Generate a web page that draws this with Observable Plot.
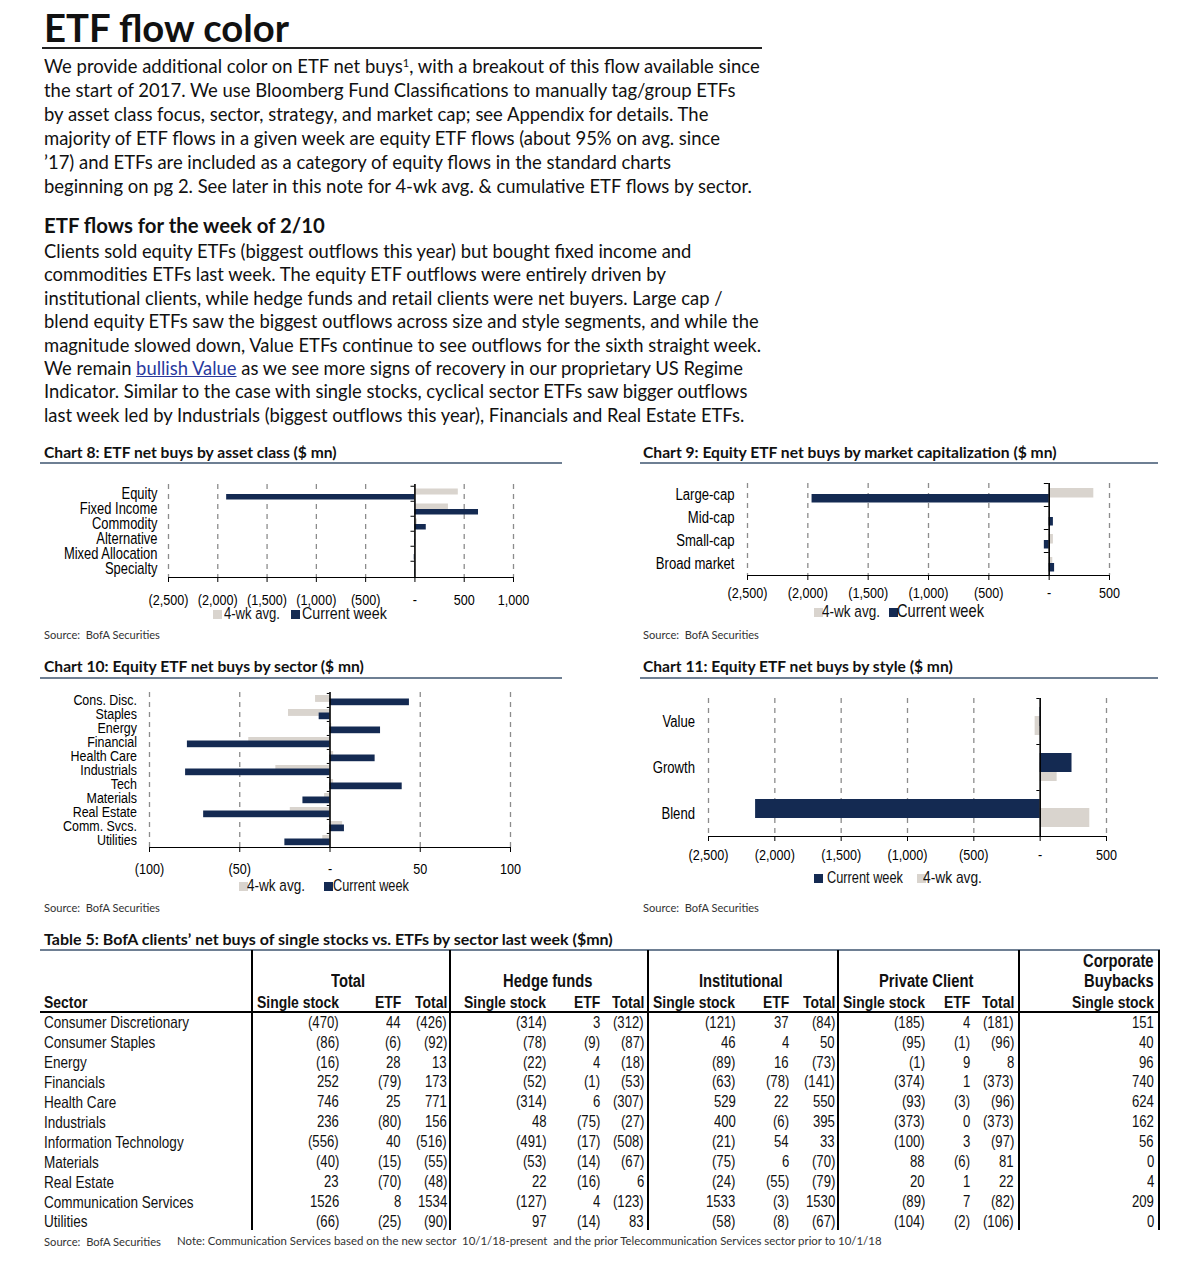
<!DOCTYPE html>
<html><head><meta charset="utf-8">
<script src="https://cdn.jsdelivr.net/npm/d3@7"></script>
<script src="https://cdn.jsdelivr.net/npm/@observablehq/plot@0.6"></script>
<style>
body{margin:0;background:#fff;}
#page{position:relative;width:1187px;height:1280px;overflow:hidden;color:#111;}
.abs{position:absolute;white-space:nowrap;line-height:1;}
.abs sup{font-size:0.6em;line-height:0;vertical-align:0.55em;}
.abs a{color:#2a3a9e;text-decoration:underline;}
.hr{position:absolute;}
</style></head>
<body><div id="page"></div>
<script>
// ---------------- DATA ----------------
const cats8 = ["Equity","Fixed Income","Commodity","Alternative","Mixed Allocation","Specialty"];
const avg8  = [440, 340, 25, 4, 3, 2];
const cur8  = [-1910, 645, 115, 6, -7, 4];
const ticks8 = [-2500,-2000,-1500,-1000,-500,0,500,1000];

const cats9 = ["Large-cap","Mid-cap","Small-cap","Broad market"];
const avg9  = [370, 8, 35, 30];
const cur9  = [-1965, 35, -40, 45];
const ticks9 = [-2500,-2000,-1500,-1000,-500,0,500];

const cats10 = ["Cons. Disc.","Staples","Energy","Financial","Health Care","Industrials","Tech","Materials","Real Estate","Comm. Svcs.","Utilities"];
const avg10  = [-8, -23, 1, -45, 2, -30, 2, -3, -22, 7, -4];
const cur10  = [44, -6, 28, -79, 25, -80, 40, -15, -70, 8, -25];
const ticks10 = [-100,-50,0,50,100];

const cats11 = ["Value","Growth","Blend"];
const cur11  = [-3, 240, -2145];
const avg11  = [-38, 128, 374];
const ticks11 = [-2500,-2000,-1500,-1000,-500,0,500];

const sectors = ["Consumer Discretionary","Consumer Staples","Energy","Financials","Health Care","Industrials","Information Technology","Materials","Real Estate","Communication Services","Utilities"];
const totSingle  = [-470,-86,-16,252,746,236,-556,-40,23,1526,-66];
const totETF     = [44,-6,28,-79,25,-80,40,-15,-70,8,-25];
const totTotal   = [-426,-92,13,173,771,156,-516,-55,-48,1534,-90];
const hfSingle   = [-314,-78,-22,-52,-314,48,-491,-53,22,-127,97];
const hfETF      = [3,-9,4,-1,6,-75,-17,-14,-16,4,-14];
const hfTotal    = [-312,-87,-18,-53,-307,-27,-508,-67,6,-123,83];
const instSingle = [-121,46,-89,-63,529,400,-21,-75,-24,1533,-58];
const instETF    = [37,4,16,-78,22,-6,54,6,-55,-3,-8];
const instTotal  = [-84,50,-73,-141,550,395,33,-70,-79,1530,-67];
const pcSingle   = [-185,-95,-1,-374,-93,-373,-100,88,20,-89,-104];
const pcETF      = [4,-1,9,1,-3,0,3,-6,1,7,-2];
const pcTotal    = [-181,-96,8,-373,-96,-373,-97,81,22,-82,-106];
const buybacks   = [151,40,96,740,624,162,56,0,4,209,0];

// ---------------- HELPERS ----------------
const page = document.getElementById("page");
const BODY = "Lato, 'Open Sans', sans-serif";
const NARROW = "'Liberation Sans', Arial, sans-serif";
const SX = 0.82; // horizontal squeeze to mimic a narrow face
const NAVY = "#142a52", GRAY = "#d9d4ce", RULE = "#6e7f93";
const acct = d => d === 0 ? "-" : d < 0 ? "(" + d3.format(",")(-d) + ")" : d3.format(",")(d);
const tcell = d => d < 0 ? "(" + (-d) + ")" : String(d);

function txt(html, o) {
  const d = document.createElement("div");
  d.className = "abs";
  d.innerHTML = html;
  d.style.fontFamily = o.family || BODY;
  d.style.fontWeight = o.weight || 400;
  d.style.color = o.color || "#111";
  if (o.sx) { d.style.transform = `scaleX(${o.sx})`; d.style.transformOrigin = "0 0"; }
  let fs = o.size || 16;
  d.style.fontSize = fs + "px";
  page.appendChild(d);
  if (o.w) { const cw = d.getBoundingClientRect().width; fs = fs * o.w / cw; d.style.fontSize = fs + "px"; }
  const w = d.getBoundingClientRect().width;
  const x = o.anchor === "end" ? o.x - w : o.anchor === "middle" ? o.x - w / 2 : o.x;
  d.style.left = x + "px";
  d.style.top = (o.y - fs * (o.f || 0.55)) + "px";
  return fs;
}
function fitSize(html, family, weight, target) {
  const d = document.createElement("div");
  d.className = "abs"; d.innerHTML = html; d.style.fontFamily = family; d.style.fontWeight = weight; d.style.fontSize = "20px";
  page.appendChild(d); const w = d.getBoundingClientRect().width; d.remove();
  return 20 * target / w;
}
function hr(x1, x2, y, h, color) {
  const d = document.createElement("div"); d.className = "hr";
  Object.assign(d.style, {left: x1 + "px", top: (y - h / 2) + "px", width: (x2 - x1) + "px", height: h + "px", background: color});
  page.appendChild(d);
}
function vr(x, y1, y2, w, color) {
  const d = document.createElement("div"); d.className = "hr";
  Object.assign(d.style, {left: (x - w / 2) + "px", top: y1 + "px", width: w + "px", height: (y2 - y1) + "px", background: color});
  page.appendChild(d);
}
function sq(x, y, color) {
  const d = document.createElement("div"); d.className = "hr";
  Object.assign(d.style, {left: x + "px", top: (y - 4.5) + "px", width: "9px", height: "9px", background: color});
  page.appendChild(d);
}

// ---------------- HEADER TEXT ----------------
txt("ETF flow color", {x: 44, y: 28, w: 245, size: 36, weight: 700, f: 0.53});
hr(42, 762, 48, 2, "#222");

const p1 = [
  "We provide additional color on ETF net buys<sup>1</sup>, with a breakout of this flow available since",
  "the start of 2017. We use Bloomberg Fund Classifications to manually tag/group ETFs",
  "by asset class focus, sector, strategy, and market cap; see Appendix for details. The",
  "majority of ETF flows in a given week are equity ETF flows (about 95% on avg. since",
  "’17) and ETFs are included as a category of equity flows in the standard charts",
  "beginning on pg 2. See later in this note for 4-wk avg. &amp; cumulative ETF flows by sector."
];
const fs1 = fitSize(p1[0], BODY, 400, 716);
p1.forEach((l, i) => txt(l, {x: 44, y: 66 + 24 * i, size: fs1, f: 0.5}));

txt("ETF flows for the week of 2/10", {x: 44, y: 226, w: 281, size: 18, weight: 700, f: 0.52});
const p2 = [
  "Clients sold equity ETFs (biggest outflows this year) but bought fixed income and",
  "commodities ETFs last week. The equity ETF outflows were entirely driven by",
  "institutional clients, while hedge funds and retail clients were net buyers. Large cap /",
  "blend equity ETFs saw the biggest outflows across size and style segments, and while the",
  "magnitude slowed down, Value ETFs continue to see outflows for the sixth straight week.",
  "We remain <a>bullish Value</a> as we see more signs of recovery in our proprietary US Regime",
  "Indicator. Similar to the case with single stocks, cyclical sector ETFs saw bigger outflows",
  "last week led by Industrials (biggest outflows this year), Financials and Real Estate ETFs."
];
const fs2 = fitSize(p2[3], BODY, 400, 715);
p2.forEach((l, i) => txt(l, {x: 44, y: 251 + 23.43 * i, size: fs2, f: 0.5}));

// ---------------- CHART PANELS ----------------
function panelTitle(t, x, y, w, ruleX1, ruleX2, ruleY) {
  txt(t, {x, y, w, size: 16, weight: 700, f: 0.55});
  hr(ruleX1, ruleX2, ruleY, 2, RULE);
}
function source(x, y) {
  txt("Source:&nbsp; BofA Securities", {x, y, w: 116, size: 11, color: "#333", f: 0.58});
}
function legend(y, items) {
  items.forEach(it => { sq(it.sx, y, it.color); txt(it.label, {x: it.tx, y, w: it.tw, size: 16, family: NARROW, sx: SX, f: 0.5}); });
}
function squeeze(svg) {
  svg.querySelectorAll("text").forEach(t => {
    const x = +t.getAttribute("x") || 0;
    const tr = t.getAttribute("transform") || "";
    t.setAttribute("transform", `${tr} translate(${x},0) scale(${SX},1) translate(${-x},0)`);
  });
}
function barChart(o) {
  const rows = o.cats.map((c, i) => ({c, a: o.first[i], b: o.second[i]}));
  const B = (o.height - o.mT - o.mB) / o.cats.length;
  const svg = Plot.plot({
    width: o.width, height: o.height,
    marginLeft: o.mL, marginRight: o.mR, marginTop: o.mT, marginBottom: o.mB,
    style: {fontFamily: NARROW, fontSize: "15.6px", color: "#000", background: "transparent", overflow: "visible"},
    x: {domain: o.domain, ticks: o.ticks, tickFormat: acct, tickSize: 5, tickPadding: o.tickPad, label: null, line: true},
    y: {domain: o.cats, padding: 0, tickSize: 0, tickPadding: o.yPad, label: null},
    marks: [
      Plot.ruleX(o.ticks.filter(t => t !== 0), {stroke: "#8c8c8c", strokeWidth: 1.3, strokeDasharray: "5,5"}),
      Plot.barX(rows, {y: "c", x: "a", fill: o.firstColor, insetTop: o.fi[0], insetBottom: B - o.fi[1]}),
      Plot.barX(rows, {y: "c", x: "b", fill: o.secondColor, insetTop: o.si[0], insetBottom: B - o.si[1]}),
      Plot.ruleY(o.cats, {y: d => d, x1: -o.zt, x2: 0, dy: -B / 2, stroke: "#000"}),
      Plot.ruleX([0], {stroke: "#000", strokeWidth: 1.6})
    ]
  });
  svg.querySelectorAll('[aria-label^="y-axis"] text').forEach(t => t.style.fontSize = o.ySize + "px");
  svg.querySelectorAll('[aria-label^="x-axis"] text').forEach(t => t.style.fontSize = "15.4px");
  squeeze(svg);
  svg.style.position = "absolute"; svg.style.left = o.left + "px"; svg.style.top = o.top + "px";
  page.appendChild(svg);
}

// Chart 8
panelTitle("Chart 8: ETF net buys by asset class ($ mn)", 44, 454, 293, 40, 562, 463);
barChart({cats: cats8, first: avg8, second: cur8, firstColor: GRAY, secondColor: NAVY,
  domain: [-2500, 1000], ticks: ticks8, left: 40, top: 478, width: 522, height: 129,
  mL: 128, mR: 49, mT: 6, mB: 30, fi: [2.5, 9], si: [8, 14], tickPad: 11.5, yPad: 11, zt: 40, ySize: 15.8});
legend(614, [{sx: 213, color: GRAY, tx: 224, tw: 56, label: "4-wk avg."},
             {sx: 291, color: NAVY, tx: 302, tw: 85, label: "Current week"}]);
source(44, 635);

// Chart 9
panelTitle("Chart 9: Equity ETF net buys by market capitalization ($ mn)", 643, 454, 414, 640, 1158, 463);
barChart({cats: cats9, first: avg9, second: cur9, firstColor: GRAY, secondColor: NAVY,
  domain: [-2500, 500], ticks: ticks9, left: 640, top: 478, width: 518, height: 127,
  mL: 107, mR: 49, mT: 5, mB: 30, fi: [5, 14.5], si: [11, 19.5], tickPad: 6.5, yPad: 13, zt: 40, ySize: 16});
legend(612, [{sx: 814, color: GRAY, tx: 822, tw: 58, label: "4-wk avg."},
             {sx: 889, color: NAVY, tx: 897, tw: 87, label: "Current week"}]);
source(643, 635);

// Chart 10
panelTitle("Chart 10: Equity ETF net buys by sector ($ mn)", 44, 668, 320, 40, 562, 678);
barChart({cats: cats10, first: avg10, second: cur10, firstColor: GRAY, secondColor: NAVY,
  domain: [-100, 100], ticks: ticks10, left: 40, top: 688, width: 522, height: 189,
  mL: 109, mR: 52, mT: 4, mB: 30, fi: [2, 9], si: [5.5, 12.3], tickPad: 11, yPad: 12.5, zt: 1.5, ySize: 15.2});
legend(886, [{sx: 239, color: GRAY, tx: 247, tw: 58, label: "4-wk avg."},
             {sx: 324, color: NAVY, tx: 333, tw: 76, label: "Current week"}]);
source(44, 908);

// Chart 11
panelTitle("Chart 11: Equity ETF net buys by style ($ mn)", 643, 668, 310, 640, 1158, 678);
barChart({cats: cats11, first: avg11, second: cur11, firstColor: GRAY, secondColor: NAVY,
  domain: [-2500, 500], ticks: ticks11, left: 640, top: 692, width: 518, height: 174,
  mL: 68, mR: 52, mT: 6, mB: 30, fi: [18, 37], si: [9, 28], tickPad: 8, yPad: 13.5, zt: 25, ySize: 16});
legend(878, [{sx: 814, color: NAVY, tx: 827, tw: 76, label: "Current week"},
             {sx: 917, color: GRAY, tx: 923, tw: 59, label: "4-wk avg."}]);
source(643, 908);

// ---------------- TABLE ----------------
txt("Table 5: BofA clients’ net buys of single stocks vs. ETFs by sector last week ($mn)", {x: 44, y: 940, w: 569, size: 16, weight: 700, f: 0.55});
hr(40, 1160, 949.5, 2, RULE);

const cols = [
  [totSingle, 339], [totETF, 401], [totTotal, 447],
  [hfSingle, 546.5], [hfETF, 600.5], [hfTotal, 644],
  [instSingle, 735.5], [instETF, 789], [instTotal, 835],
  [pcSingle, 925], [pcETF, 970.5], [pcTotal, 1014],
  [buybacks, 1154]
];
const colHeads = ["Single stock","ETF","Total","Single stock","ETF","Total","Single stock","ETF","Total","Single stock","ETF","Total","Single stock"];
const groups = [["Total", 348.5], ["Hedge funds", 547.5], ["Institutional", 741], ["Private Client", 926.5]];

const T = {family: NARROW, sx: SX, f: 0.5};
txt("Sector", {...T, x: 44, y: 1002, size: 17, weight: 700});
groups.forEach(([g, cx]) => txt(g, {...T, x: cx, y: 980.5, size: 18, weight: 700, anchor: "middle"}));
txt("Corporate", {...T, x: 1154, y: 960.5, size: 18, weight: 700, anchor: "end"});
txt("Buybacks", {...T, x: 1154, y: 981, size: 18, weight: 700, anchor: "end"});
cols.forEach(([vals, right], j) => txt(colHeads[j], {...T, x: right, y: 1002, size: 17, weight: 700, anchor: "end"}));

sectors.forEach((s, i) => {
  const y = 1022.7 + 19.9 * i;
  txt(s, {...T, x: 44, y, size: 16.5});
  cols.forEach(([vals, right]) => txt(tcell(vals[i]), {...T, x: right, y, size: 16, anchor: "end"}));
});
hr(40, 1160, 1012, 2.5, "#000");
[252, 450, 648, 838, 1019, 1159].forEach(x => vr(x, 950, 1230, 2, "#000"));

txt("Source:&nbsp; BofA Securities", {x: 44, y: 1242, w: 117, size: 11, color: "#333", f: 0.58});
txt("Note: Communication Services based on the new sector&nbsp; 10/1/18-present&nbsp; and the prior Telecommunication Services sector prior to 10/1/18", {x: 177, y: 1242, w: 705, size: 11, color: "#333", f: 0.58});
</script>
</body></html>
